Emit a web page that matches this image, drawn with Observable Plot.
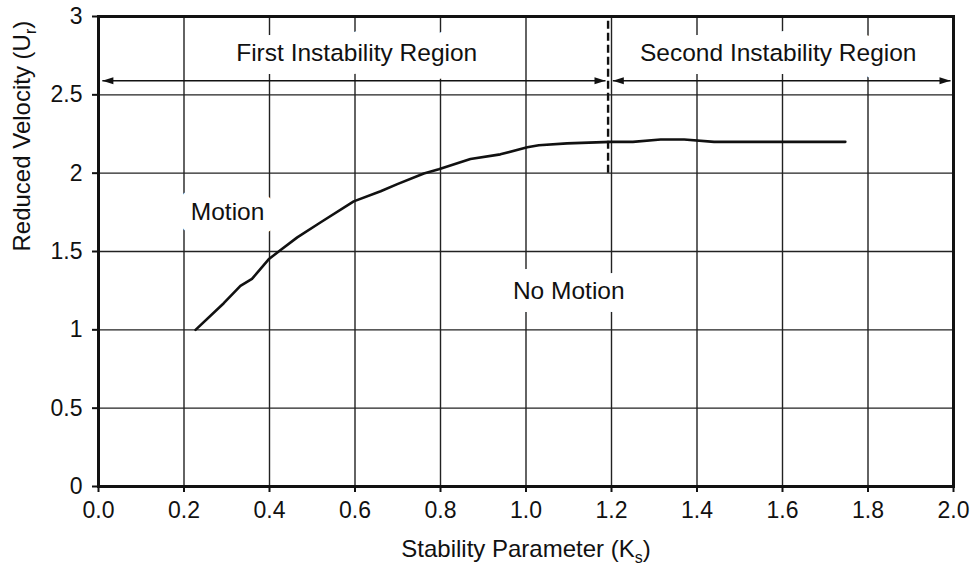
<!DOCTYPE html>
<html>
<head>
<meta charset="utf-8">
<script src="https://cdn.jsdelivr.net/npm/d3@7"></script>
<script src="https://cdn.jsdelivr.net/npm/@observablehq/plot@0.6"></script>
<style>
  html, body { margin: 0; padding: 0; background: #fff; }
  #chart svg { display: block; }
</style>
</head>
<body>
<div id="chart"></div>
<script>
// ---- data ----
const ks = [0.227, 0.293, 0.332, 0.359, 0.398, 0.426, 0.465, 0.519, 0.597, 0.660, 0.699, 0.761, 0.796, 0.870, 0.940, 1.003, 1.030, 1.096, 1.198, 1.250, 1.315, 1.370, 1.440, 1.600, 1.747];
const ur = [1.00, 1.17, 1.28, 1.325, 1.45, 1.51, 1.59, 1.685, 1.82, 1.885, 1.93, 1.998, 2.025, 2.09, 2.12, 2.165, 2.178, 2.19, 2.20, 2.20, 2.215, 2.215, 2.20, 2.20, 2.20];

const xTicks = [0.0, 0.2, 0.4, 0.6, 0.8, 1.0, 1.2, 1.4, 1.6, 1.8, 2.0];
const yTicks = [0, 0.5, 1, 1.5, 2, 2.5, 3];

const boundaryKs = 1.192;          // dashed boundary between regions
const boundaryFrom = 2.0;          // dashed line runs from here up to 3
const boundaryTo = 3.0;

const regionNames = ["First Instability Region", "Second Instability Region"];
const regionCenterKs = [0.604, 1.59];
const regionLabelUr = 2.763;
const arrowUr = 2.59;
const arrowFromKs = [0.009, 1.203];
const arrowToKs = [1.186, 1.993];

const zoneNames = ["Motion", "No Motion"];
const zoneKs = [0.302, 1.10];
const zoneUr = [1.749, 1.244];

const xTitle = "Stability Parameter (Ks)";
const yTitle = "Reduced Velocity (Ur)";

// ---- derived tables ----
const curve = ks.map((k, i) => ({k, u: ur[i]}));
const regions = regionNames.map((name, i) => ({name, k: regionCenterKs[i], u: regionLabelUr}));
const arrows = arrowFromKs.map((a, i) => ({a, b: arrowToKs[i], u: arrowUr}));
const heads = arrows.flatMap(d => [{k: d.a, u: d.u, rot: 180}, {k: d.b, u: d.u, rot: 0}]);
const zones = zoneNames.map((name, i) => ({name, k: zoneKs[i], u: zoneUr[i]}));

// filled, elongated arrowhead with its tip at the origin, pointing right
const headSymbol = {
  draw(ctx) {
    ctx.moveTo(0, 0);
    ctx.lineTo(-11, -3.6);
    ctx.lineTo(-11, 3.6);
    ctx.closePath();
  }
};

const font = "'Liberation Sans', Arial, Helvetica, sans-serif";
const ink = "#111";

const chart = Plot.plot({
  width: 975,
  height: 572,
  marginLeft: 98,
  marginRight: 22,
  marginTop: 16,
  marginBottom: 86,
  style: {fontFamily: font, fontSize: "23px", background: "#fff", color: ink},
  x: {domain: [0, 2], label: null},
  y: {domain: [0, 3], label: null},
  marks: [
    Plot.gridX(xTicks, {stroke: "#222", strokeOpacity: 1, strokeWidth: 1.4}),
    Plot.gridY(yTicks, {stroke: "#222", strokeOpacity: 1, strokeWidth: 1.4}),
    // labels with a white backing that breaks the grid lines
    Plot.text(regions, {x: "k", y: "u", text: "name", fontSize: 24.5, fill: ink,
      stroke: "white", strokeWidth: 26, paintOrder: "stroke", strokeLinejoin: "round"}),
    Plot.text(zones, {x: "k", y: "u", text: "name", fontSize: 24.5, fill: ink,
      stroke: "white", strokeWidth: 26, paintOrder: "stroke", strokeLinejoin: "round"}),
    // region arrows
    Plot.link(arrows, {x1: "a", x2: "b", y1: "u", y2: "u", stroke: ink, strokeWidth: 1.6}),
    Plot.dot(heads, {x: "k", y: "u", rotate: "rot", symbol: headSymbol, fill: ink, stroke: "none"}),
    // boundary
    Plot.ruleX([boundaryKs], {y1: boundaryFrom, y2: boundaryTo, stroke: ink, strokeWidth: 2.4, strokeDasharray: "8,4"}),
    // stability curve
    Plot.line(curve, {x: "k", y: "u", stroke: ink, strokeWidth: 2.6, strokeLinejoin: "round"}),
    Plot.frame({stroke: ink, strokeWidth: 3}),
    Plot.axisX(xTicks, {tickFormat: d3.format(".1f"), tickSize: 6, tickPadding: 9, strokeWidth: 2, fontSize: 23, label: null}),
    Plot.axisY(yTicks, {tickFormat: d => String(d), tickSize: 6, tickPadding: 10, strokeWidth: 2, fontSize: 23, label: null}),
    // axis titles
    Plot.text([xTitle], {frameAnchor: "bottom", dy: 70, fontSize: 24, fill: ink}),
    Plot.text([yTitle], {frameAnchor: "left", dx: -76, rotate: -90, fontSize: 24, fill: ink})
  ]
});

// render subscripts in the axis titles
function subscript(svg, full, base, sub, tail) {
  d3.select(svg).selectAll("text")
    .filter(function () { return this.textContent === full; })
    .each(function () {
      const t = d3.select(this);
      t.selectAll("*").remove();
      t.text(null);
      t.append("tspan").text(base);
      t.append("tspan").attr("dy", "6px").attr("font-size", "16px").text(sub);
      t.append("tspan").attr("dy", "-6px").text(tail);
    });
}
subscript(chart, xTitle, "Stability Parameter (K", "s", ")");
subscript(chart, yTitle, "Reduced Velocity (U", "r", ")");

document.getElementById("chart").appendChild(chart);
</script>
</body>
</html>
